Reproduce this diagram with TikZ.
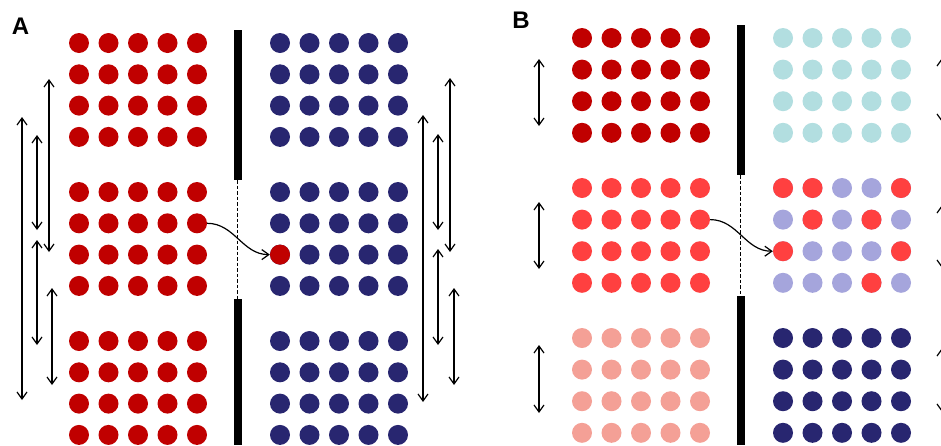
\documentclass[tikz,border=0pt]{standalone}
\usepackage{fontspec}
\setmainfont{Liberation Sans}
\usetikzlibrary{arrows.meta}
\definecolor{dred}{RGB}{192,0,0}
\definecolor{navy}{RGB}{40,38,112}
\definecolor{bred}{RGB}{255,64,64}
\definecolor{salmon}{RGB}{244,160,150}
\definecolor{lcyan}{RGB}{178,222,224}
\definecolor{lav}{RGB}{165,165,220}
\tikzset{
  dot/.style={circle,inner sep=0pt,minimum size=20pt,draw=none},
  dbl/.style={line width=1.2pt,{Straight Barb[length=7pt,width=10pt]}-{Straight Barb[length=7pt,width=10pt]}},
  hop/.style={line width=1.2pt,-{Straight Barb[length=7pt,width=10pt]}},
  wall/.style={fill=black,draw=none},
  gate/.style={line width=1.4pt,dash pattern=on 3.5pt off 2pt},
  lbl/.style={font=\fontsize{24}{28}\selectfont\bfseries,inner sep=0pt,anchor=base}
}
\begin{document}
\begin{tikzpicture}[x=1pt,y=-1pt]
\useasboundingbox (0,0) rectangle (941,445);
\clip (0,0) rectangle (941,445);
% ---------- Panel A ----------
\node[lbl] (labA) at (20.5,34) {A};
\foreach \b/\by in {1/43,2/192,3/341}{
  \foreach \r in {1,...,4}{
    \foreach \c in {1,...,5}{
      \node[dot,fill=dred] (AL-\b-\r-\c) at ({79+(\c-1)*29.5},{\by+(\r-1)*31.3}) {};
      \node[dot,fill=navy] (AR-\b-\r-\c) at ({280+(\c-1)*29.5},{\by+(\r-1)*31.3}) {};
    }
  }
}
\node[dot,fill=dred] (AR-2-3-1) at (280,{192+2*31.3}) {};
% wall A
\fill[wall] (233.5,30) rectangle (242,180);
\fill[wall] (233.5,299) rectangle (242,445);
\coordinate (gAt) at (237.75,180);
\coordinate (gAb) at (237.75,299);
\draw[gate] (gAt) -- (gAb);
\draw[hop] (AL-2-2-5.east) to[out=0,in=180] (AR-2-3-1.west);
% left arrows A
\coordinate (a1t) at (22,117);  \coordinate (a1b) at (22,400);
\coordinate (a2t) at (37,135);  \coordinate (a2b) at (37,230);
\coordinate (a3t) at (49,79);   \coordinate (a3b) at (49,252);
\coordinate (a4t) at (37,240);  \coordinate (a4b) at (37,345);
\coordinate (a5t) at (52,288);  \coordinate (a5b) at (52,385);
\foreach \k in {1,...,5}{\draw[dbl] (a\k t) -- (a\k b);}
% right arrows A
\coordinate (b1t) at (423,115); \coordinate (b1b) at (423,402);
\coordinate (b2t) at (438,134); \coordinate (b2b) at (438,230);
\coordinate (b3t) at (450,78);  \coordinate (b3b) at (450,252);
\coordinate (b4t) at (438,249); \coordinate (b4b) at (438,345);
\coordinate (b5t) at (454,288); \coordinate (b5b) at (454,385);
\foreach \k in {1,...,5}{\draw[dbl] (b\k t) -- (b\k b);}
% ---------- Panel B ----------
\node[lbl] (labB) at (521,28) {B};
\foreach \b/\by/\lc/\rc in {1/38/dred/lcyan,2/188/bred/lav,3/338/salmon/navy}{
  \foreach \r in {1,...,4}{
    \foreach \c in {1,...,5}{
      \node[dot,fill=\lc] (BL-\b-\r-\c) at ({582+(\c-1)*29.5},{\by+(\r-1)*31.6}) {};
      \node[dot,fill=\rc] (BR-\b-\r-\c) at ({783+(\c-1)*29.5},{\by+(\r-1)*31.6}) {};
    }
  }
}
% red dots in the mixed block
\foreach \r/\c in {1/1,1/2,1/5,2/2,2/4,3/1,3/5,4/4}{
  \node[dot,fill=bred] (BR-2-\r-\c) at ({783+(\c-1)*29.5},{188+(\r-1)*31.6}) {};
}
% wall B
\fill[wall] (736.5,25) rectangle (745,175);
\fill[wall] (736.5,296) rectangle (745,445);
\coordinate (gBt) at (740.75,175);
\coordinate (gBb) at (740.75,296);
\draw[gate] (gBt) -- (gBb);
\draw[hop] (BL-2-2-5.east) to[out=0,in=180] (BR-2-3-1.west);
% left arrows B
\coordinate (c1t) at (539,59);  \coordinate (c1b) at (539,126);
\coordinate (c2t) at (539,202); \coordinate (c2b) at (539,269);
\coordinate (c3t) at (539,345); \coordinate (c3b) at (539,413);
\foreach \k in {1,...,3}{\draw[dbl] (c\k t) -- (c\k b);}
% right arrows B (cut by the edge)
\coordinate (d1t) at (942,58);  \coordinate (d1b) at (942,122);
\coordinate (d2t) at (942,205); \coordinate (d2b) at (942,268);
\coordinate (d3t) at (942,348); \coordinate (d3b) at (942,412);
\foreach \k in {1,...,3}{\draw[dbl] (d\k t) -- (d\k b);}
\end{tikzpicture}
\end{document}
